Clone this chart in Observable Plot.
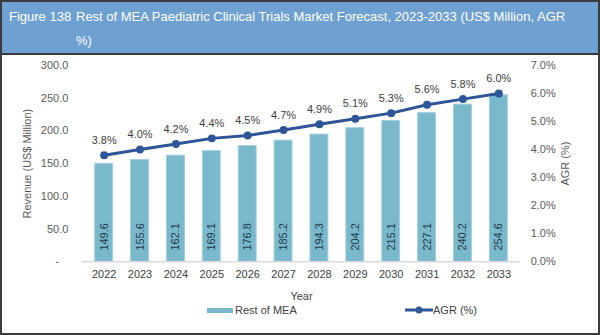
<!DOCTYPE html>
<html>
<head>
<meta charset="utf-8">
<script src="https://cdn.jsdelivr.net/npm/d3@7"></script>
<script src="https://cdn.jsdelivr.net/npm/@observablehq/plot@0.6"></script>
<style>
  body { margin: 0; background: #fff; font-family: "Liberation Sans", Arial, sans-serif; }
  #wrap { position: relative; width: 600px; height: 335px; box-sizing: border-box; border: 2px solid #3b3b3b; overflow: hidden; background: #fff; }
  #title { position: absolute; left: 0; top: 0; width: 596px; height: 51px; background: #6fa0d2; border-bottom: 2px solid #3b3b3b; color: #fff; font-size: 13px; line-height: 24px; }
  #title .lab { position: absolute; left: 7px; top: 3px; }
  #title .txt { position: absolute; left: 74px; top: 3px; width: 506px; }
  #chart { position: absolute; left: -2px; top: 48px; }
  .leg { position: absolute; top: 302px; font-size: 11px; color: #404040; display: flex; align-items: center; }
</style>
</head>
<body>
<div id="wrap">
  <div id="title"><span class="lab">Figure 138</span><span class="txt">Rest of MEA Paediatric Clinical Trials Market Forecast, 2023-2033 (US$ Million, AGR %)</span></div>
  <div id="chart"></div>
  <div class="leg" style="left:205px;"><span style="display:inline-block;width:26px;height:5px;background:#7ab8cc;margin-right:2px;"></span>Rest of MEA</div>
  <div class="leg" style="left:403px;"><svg width="28" height="10"><line x1="0" y1="5" x2="28" y2="5" stroke="#2e5597" stroke-width="3"/><circle cx="14" cy="5" r="3.5" fill="#2e5597"/></svg>AGR (%)</div>
</div>
<script>
const years = ["2022","2023","2024","2025","2026","2027","2028","2029","2030","2031","2032","2033"];
const revenue = [149.6,155.6,162.1,169.1,176.8,185.2,194.3,204.2,215.1,227.1,240.2,254.6];
const agr = [3.8,4.0,4.2,4.4,4.5,4.7,4.9,5.1,5.3,5.6,5.8,6.0];
const leftTicks = [0,50,100,150,200,250,300];
const rightTicks = [0,1,2,3,4,5,6,7];
const revMax = 300, agrMax = 7;
const toRev = a => a * revMax / agrMax;

const data = years.map((y, i) => ({year: y, revenue: revenue[i], agr: agr[i]}));

const chart = Plot.plot({
  width: 600,
  height: 252,
  marginTop: 15,
  marginBottom: 40,
  marginLeft: 82,
  marginRight: 78,
  style: {fontFamily: "Liberation Sans, Arial, sans-serif", fontSize: "11px", color: "#595959", background: "transparent"},
  x: {domain: years, paddingInner: 0.5, paddingOuter: 0.25},
  y: {domain: [0, revMax]},
  marks: [
    Plot.axisY(leftTicks, {anchor: "left", tickSize: 0, tickPadding: 14, tickFormat: v => v === 0 ? "-   " : v.toFixed(1), label: "Revenue (US$ Million)", labelArrow: "none", labelAnchor: "center", labelOffset: 59, fill: "#595959"}),
    Plot.axisY(rightTicks.map(toRev), {anchor: "right", tickSize: 0, tickPadding: 10, tickFormat: v => (v * agrMax / revMax).toFixed(1) + "%", label: "AGR (%)", labelArrow: "none", labelAnchor: "center", labelOffset: 48, fill: "#595959"}),
    Plot.axisX({tickSize: 0, tickPadding: 8, label: "Year", labelArrow: "none", labelAnchor: "center", labelOffset: 38, fill: "#404040"}),
    Plot.barY(data, {x: "year", y: "revenue", fill: "#7ab8cc", stroke: "#a3d0de", strokeWidth: 1}),
    Plot.ruleY([0], {stroke: "#d9d9d9", strokeWidth: 1.5}),
    Plot.text(data, {x: "year", y: 0, dy: -25, text: d => d.revenue.toFixed(1), rotate: -90, fill: "#1f3a4a", fontSize: 11}),
    Plot.line(data, {x: "year", y: d => toRev(d.agr), stroke: "#2e5597", strokeWidth: 3}),
    Plot.dot(data, {x: "year", y: d => toRev(d.agr), r: 4, fill: "#2e5597"}),
    Plot.text(data, {x: "year", y: d => toRev(d.agr), dy: -15, text: d => d.agr.toFixed(1) + "%", fill: "#404040", fontSize: 11})
  ]
});
document.getElementById("chart").appendChild(chart);
</script>
</body>
</html>
